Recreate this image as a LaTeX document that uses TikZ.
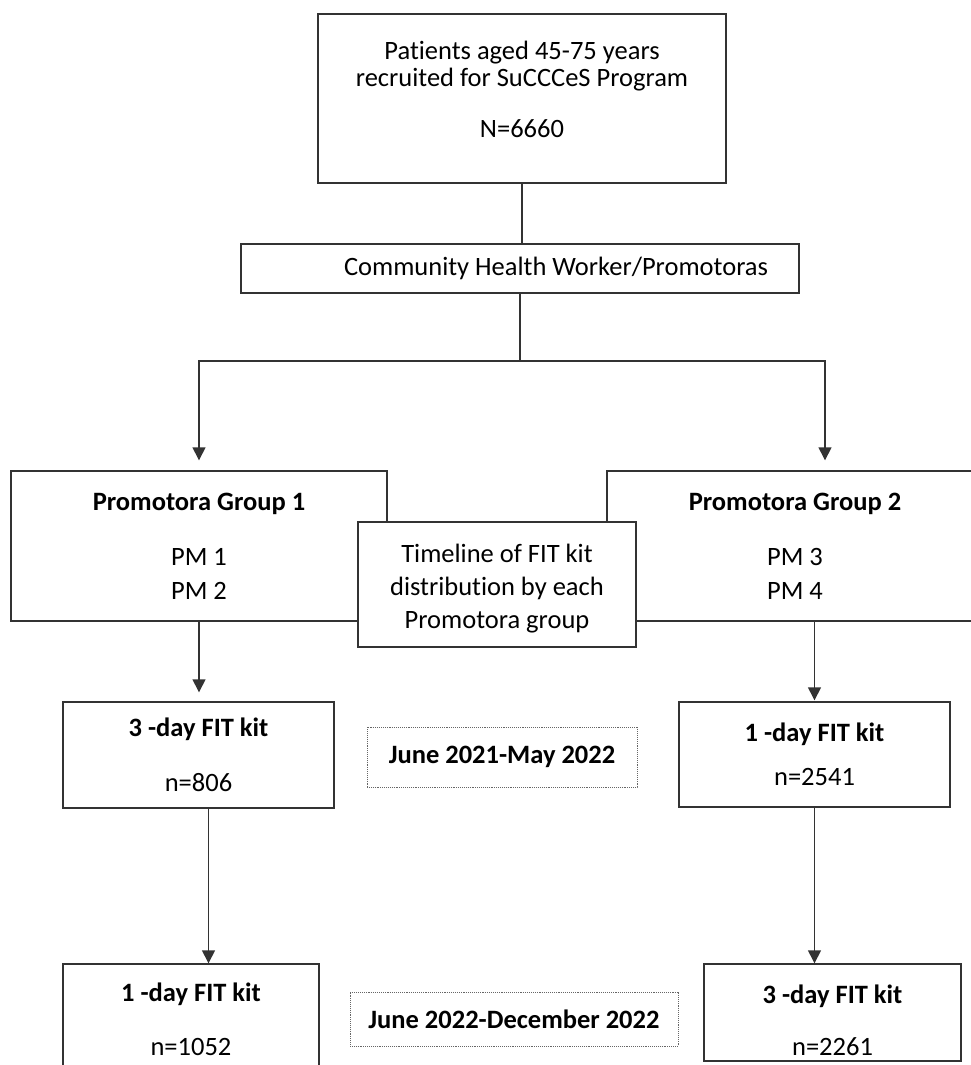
\documentclass[tikz,border=0pt]{standalone}
\usepackage{fontspec}
\setmainfont{Carlito}[Ligatures=NoCommon]
\usetikzlibrary{arrows.meta}

\tikzset{
  frame/.style={draw=black!80, line width=1.4pt, fill=white, inner sep=0pt, align=center, font=\fontsize{26.5}{34}\selectfont},
  datebox/.style={draw=black!60, densely dotted, line width=0.9pt, inner sep=0pt, font=\bfseries\fontsize{26.5}{30}\selectfont},
  link/.style={draw=black!80, line width=1.4pt},
  arr/.style={link, -{Triangle[width=13pt,length=13pt]}}
}

\begin{document}
\begin{tikzpicture}[x=1pt,y=-1pt]
\useasboundingbox (0,0) rectangle (971,1065);

% recruitment
\node[frame, minimum width=408pt, minimum height=169pt] (patients) at (522,98.5) {};
\node[align=center, font=\fontsize{26.5}{27}\selectfont] (patientstxt) at (522,89) {Patients aged 45-75 years\\recruited for SuCCCeS Program\\[24pt]N=6660};
\node[frame, minimum width=558pt, minimum height=49pt] (chw) at (520,268.5) {\hspace*{72pt}Community Health Worker/Promotoras};

% promotora groups
\node[frame, minimum width=376pt, minimum height=150pt] (group1) at (199,546) {\textbf{Promotora Group 1}\\[21pt]PM 1\\PM 2};
\node[frame, minimum width=376pt, minimum height=150pt] (group2) at (795,546) {\textbf{Promotora Group 2}\\[21pt]PM 3\\PM 4};
\node[frame, minimum width=278pt, minimum height=125pt, font=\fontsize{26.5}{33}\selectfont] (timeline) at (497,584.5) {\rule{0pt}{26pt}Timeline of FIT kit\\distribution by each\\Promotora group};

% first period
\node[frame, minimum width=271pt, minimum height=106pt] (kitA) at (198.5,755) {\textbf{3 -day FIT kit}\\[21pt]n=806};
\node[frame, minimum width=271pt, minimum height=105pt] (kitB) at (814.5,754.5) {\textbf{1 -day FIT kit}\\[10pt]n=2541};
\node[datebox, minimum width=270pt, minimum height=60pt] (period1) at (502,757) {June 2021-May 2022};

% second period
\node[frame, minimum width=256pt, minimum height=110pt] (kitC) at (191,1019) {\textbf{1 -day FIT kit}\\[20pt]n=1052};
\node[frame, minimum width=257pt, minimum height=97pt] (kitD) at (832.5,1012.5) {\rule{0pt}{34pt}\textbf{3 -day FIT kit}\\[18pt]n=2261};
\node[datebox, minimum width=328pt, minimum height=54pt] (period2) at (514,1019) {June 2022-December 2022};

% connectors
\coordinate (split) at (520,361);
\draw[link] (patients.south) -- (patients.south |- chw.north);
\draw[link] (chw.south) -- (split);
\draw[arr, shorten >=10pt] (split) -| (group1.north);
\draw[arr, shorten >=10pt] (split) -| ([xshift=30pt]group2.north);
\draw[arr, shorten >=9pt] (group1.south) -- (group1.south |- kitA.north);
\draw[arr, shorten >=1pt] (group2.south -| kitB.north) -- (kitB.north);
\draw[arr] ([xshift=10pt]kitA.south) -- ([xshift=10pt]kitA.south |- kitC.north);
\draw[arr] (kitB.south) -- (kitB.south |- kitD.north);
\end{tikzpicture}
\end{document}
